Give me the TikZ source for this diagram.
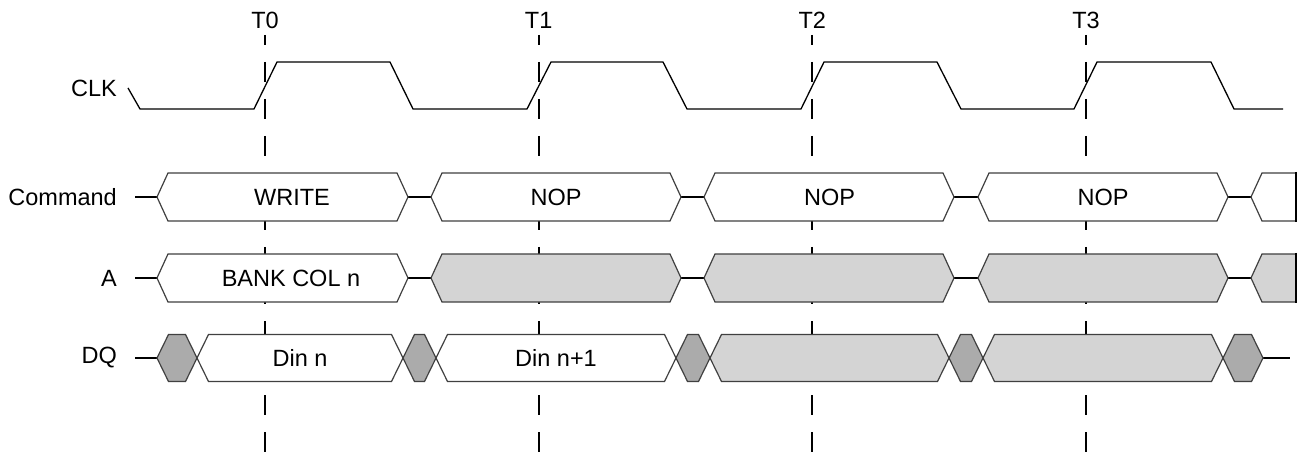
\documentclass[tikz,border=0pt]{standalone}
\usepackage{fontspec}
\setmainfont{Liberation Sans}
\begin{document}
\begin{tikzpicture}[x=1pt,y=-1pt,
  lbl/.style={font=\fontsize{23.5}{28}\selectfont, inner sep=0pt},
  rowlbl/.style={lbl, anchor=east},
  tick/.style={line width=2pt, dash pattern=on 20pt off 17pt, dash phase=10pt},
  wave/.style={line width=1.3pt, black, line join=miter},
  bus/.style={line width=1.2pt, draw=black!75, fill=white, line join=miter},
  light/.style={bus, fill=black!17},
  dark/.style={bus, fill=black!33},
  stub/.style={line width=2pt, black}]
\useasboundingbox (0,0) rectangle (1299,465);

% time markers
\foreach \n/\x in {0/265,1/538.7,2/812.3,3/1086}{
  \coordinate (t\n top) at (\x,35);
  \coordinate (t\n bot) at (\x,455);
  \node[lbl] (t\n lab) at (\x,20) {T\n};
  \draw[tick] (t\n top) -- (t\n bot);
}

% row labels
\node[rowlbl] (clklab) at (117,88) {CLK};
\node[rowlbl] (cmdlab) at (117,197) {Command};
\node[rowlbl] (alab) at (117,278) {A};
\node[rowlbl] (dqlab) at (117,358) {DQ};

% CLK
\draw[wave] (128,88)--(140,109)--(254,109)--(277,62)--(390,62)--(413,109)
  --(527,109)--(551,62)--(663,62)--(687,109)--(801,109)--(824,62)--(937,62)
  --(961,109)--(1074,109)--(1097,62)--(1211,62)--(1234,109)--(1283,109);

% Command row
\foreach \a/\b in {135/157,408/431,681/704,954/978,1228/1251}
  \draw[stub] (\a,197)--(\b,197);
\foreach \l/\r in {157/408,431/681,704/954,978/1228}
  \draw[bus] (\l,197)--(\l+11,173)--(\r-11,173)--(\r,197)--(\r-11,221)--(\l+11,221)--cycle;
\draw[bus] (1296,173)--(1262,173)--(1251,197)--(1262,221)--(1296,221);
\draw[line width=2pt] (1296,172)--(1296,222);
\node[lbl] (cmd1) at (292,197) {WRITE};
\node[lbl] (cmd2) at (556,197) {NOP};
\node[lbl] (cmd3) at (829.5,197) {NOP};
\node[lbl] (cmd4) at (1103,197) {NOP};

% A row
\foreach \a/\b in {135/157,408/431,681/704,954/978,1228/1251}
  \draw[stub] (\a,278)--(\b,278);
\draw[bus] (157,278)--(168,254)--(397,254)--(408,278)--(397,302)--(168,302)--cycle;
\foreach \l/\r in {431/681,704/954,978/1228}
  \draw[light] (\l,278)--(\l+11,254)--(\r-11,254)--(\r,278)--(\r-11,302)--(\l+11,302)--cycle;
\draw[light] (1296,254)--(1262,254)--(1251,278)--(1262,302)--(1296,302);
\draw[line width=2pt] (1296,253)--(1296,303);
\node[lbl] (a1) at (291,278) {BANK COL n};

% DQ row
\draw[stub] (135,358)--(157,358);
\draw[stub] (1263,358)--(1290,358);
\foreach \l/\r in {157/197,403/436,676/710,949/983,1223/1263}
  \draw[dark] (\l,358)--(\l+11.5,334.5)--(\r-11.5,334.5)--(\r,358)--(\r-11.5,381.5)--(\l+11.5,381.5)--cycle;
\foreach \l/\r in {197/403,436/676}
  \draw[bus] (\l,358)--(\l+11.5,334.5)--(\r-11.5,334.5)--(\r,358)--(\r-11.5,381.5)--(\l+11.5,381.5)--cycle;
\foreach \l/\r in {710/949,983/1223}
  \draw[light] (\l,358)--(\l+11.5,334.5)--(\r-11.5,334.5)--(\r,358)--(\r-11.5,381.5)--(\l+11.5,381.5)--cycle;
\node[lbl] (dq1) at (300,358) {Din n};
\node[lbl] (dq2) at (556,358) {Din n+1};
\end{tikzpicture}
\end{document}
